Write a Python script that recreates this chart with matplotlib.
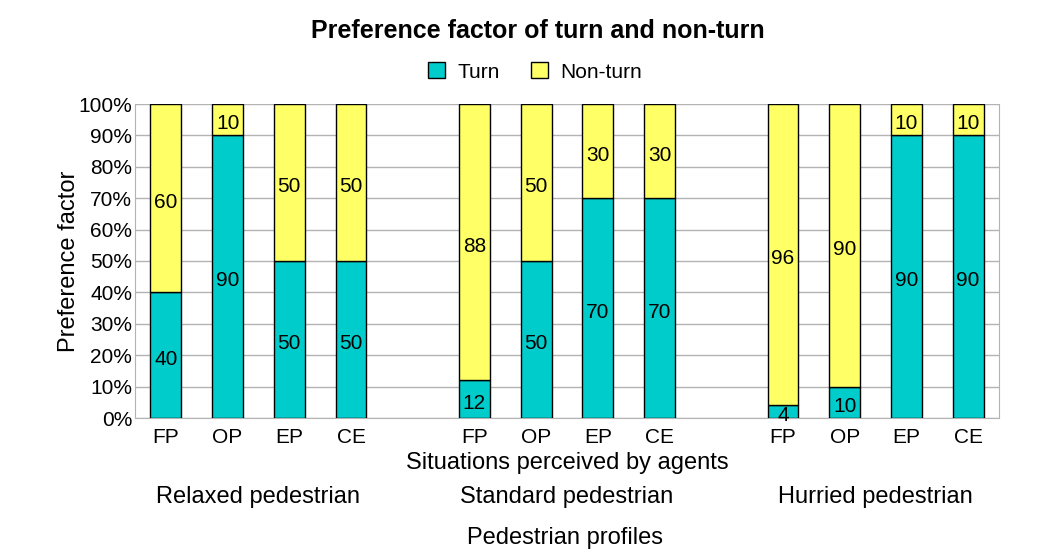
import matplotlib
matplotlib.use("Agg")
import matplotlib.pyplot as plt
from matplotlib.patches import Patch

plt.rcParams['font.family'] = ['Liberation Sans', 'DejaVu Sans']

situations = ["FP", "OP", "EP", "CE"]
profiles = ["Relaxed pedestrian", "Standard pedestrian", "Hurried pedestrian"]
turn = [40, 90, 50, 50, 12, 50, 70, 70, 4, 10, 90, 90]
non_turn = [60, 10, 50, 50, 88, 50, 30, 30, 96, 90, 10, 10]

teal = "#00CCCC"
yellow = "#FFFF66"

fig = plt.figure(figsize=(10.42, 5.58), dpi=100)
ax = fig.add_axes([135/1042, 140/558, (999-135)/1042, (418-104)/558])

positions = []
for g in range(len(profiles)):
    for i in range(len(situations)):
        positions.append(g * 5 + i)

w = 0.5
ax.bar(positions, turn, width=w, color=teal, edgecolor="black", linewidth=1, zorder=3)
ax.bar(positions, non_turn, width=w, bottom=turn, color=yellow, edgecolor="black", linewidth=1, zorder=3)

for x, t, n in zip(positions, turn, non_turn):
    ax.annotate(str(t), (x, t / 2), xytext=(0, -4), textcoords="offset pixels",
                ha="center", va="center", fontsize=15, zorder=4, annotation_clip=False)
    ax.annotate(str(n), (x, t + n / 2), xytext=(0, -4), textcoords="offset pixels",
                ha="center", va="center", fontsize=15, zorder=4, annotation_clip=False)

ax.set_xlim(-0.5, 13.5)
ax.set_ylim(0, 100)
ax.set_yticks(range(0, 101, 10))
ax.set_yticklabels([f"{v}%" for v in range(0, 101, 10)], fontsize=15)
ax.set_xticks(positions)
ax.set_xticklabels(situations * len(profiles), fontsize=15)
ax.tick_params(axis="x", length=0, pad=7)
ax.tick_params(axis="y", length=0, pad=2)
ax.grid(axis="y", color="#b3b3b3", linewidth=1, zorder=0)
ax.spines["top"].set_visible(False)
for s in ["left", "right", "bottom"]:
    ax.spines[s].set_color("#b3b3b3")

ax.set_xlabel("Situations perceived by agents", fontsize=17, labelpad=4)
ax.set_ylabel("Preference factor", fontsize=17, labelpad=-1)

for g, name in enumerate(profiles):
    cx = g * 5 + 1.5
    ax.text(cx, -25, name, ha="center", va="center", fontsize=17)
fig.text(565/1042, 1 - 538/558, "Pedestrian profiles", ha="center", va="center", fontsize=17)

fig.text(538/1042, 1 - 31/558, "Preference factor of turn and non-turn",
         ha="center", va="center", fontsize=18, fontweight="bold")

handles = [Patch(facecolor=teal, edgecolor="black"), Patch(facecolor=yellow, edgecolor="black")]
fig.legend(handles, ["Turn", "Non-turn"], loc="center", bbox_to_anchor=(535/1042, 1 - 72/558),
           ncol=2, frameon=False, fontsize=15, handlelength=0.8, handleheight=0.8,
           columnspacing=1.5, handletextpad=0.6)

fig.savefig("out.png", dpi=100)
